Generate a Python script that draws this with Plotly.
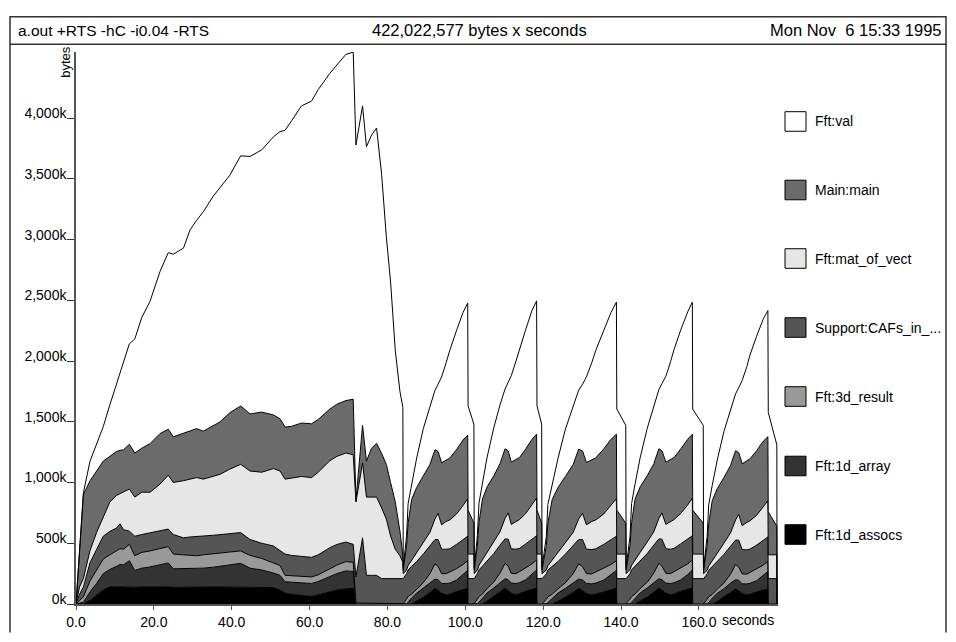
import plotly.graph_objects as go

# ---- data (time in seconds, cumulative heap level in kbytes at top of each band) ----
time_s = [
    0, 0.9, 1.9, 3.6, 5.3, 7.0, 8.7, 10.4, 11.3, 12.2, 13.7, 15.1, 16.9, 19.0, 21.6, 23.7, 25.0, 27.6, 29.3, 31.0,
    32.7, 35.3, 37.0, 39.5, 42.3, 44.7, 47.7, 50.7, 52.4, 53.7, 55.4, 57.9, 60.5, 62.2, 65.2, 67.0, 69.3, 71.2,
    71.9, 73.6, 74.6, 75.9, 77.2, 78.5, 79.7, 80.8, 82.0, 83.2, 83.95,
    84.05, 84.9, 85.3, 86.2, 87.5, 89.2, 90.9, 92.2, 93.0, 93.9, 95.1, 96.0, 97.7, 99.4, 100.6, 100.7, 102.2,
    102.3, 103.1, 103.5, 104.4, 105.6, 107.3, 108.9, 110.2, 111.0, 111.8, 113.0, 113.9, 115.5, 117.1, 118.3, 118.4, 119.6,
    119.7, 120.8, 121.2, 122.3, 123.8, 125.7, 127.7, 129.1, 130.1, 131.1, 132.5, 133.5, 135.5, 137.4, 138.8, 138.9, 141.2,
    141.3, 142.3, 142.7, 143.6, 144.9, 146.7, 148.4, 149.7, 150.5, 151.5, 152.7, 153.6, 155.3, 157.1, 158.3, 158.4, 161.1,
    161.2, 162.1, 162.5, 163.4, 164.7, 166.4, 168.1, 169.4, 170.2, 171.1, 172.3, 173.1, 174.8, 176.5, 177.7, 177.8, 180.0,
    180.05,
]

lvl_1d_assocs = [
    0, 0, 0, 30, 70, 115, 142, 140, 142, 140, 142, 138, 140, 142, 140, 142, 138, 140, 140, 142,
    140, 140, 140, 138, 140, 137, 137, 135, 115, 90, 80, 70, 62, 75, 102, 115, 125, 129,
    0, 0, 0, 0, 0, 0, 0, 0, 0, 0, 0,
    0, 0, 0, 0, 25, 55, 95, 129, 115, 89, 75, 80, 102, 115, 129, 0, 0,
    0, 0, 0, 0, 25, 60, 100, 132, 112, 89, 78, 85, 105, 118, 132, 0, 0,
    0, 0, 0, 0, 22, 55, 95, 129, 112, 86, 75, 82, 100, 118, 129, 0, 0,
    0, 0, 0, 0, 25, 58, 98, 132, 115, 89, 78, 82, 105, 118, 132, 0, 0,
    0, 0, 0, 0, 22, 55, 95, 126, 110, 86, 75, 80, 100, 115, 126, 0, 0,
    0,
]

lvl_1d_array = [
    0, 5, 15, 100, 170, 250, 285, 310, 325, 322, 357, 276, 295, 305, 320, 338, 290, 290, 290, 290,
    295, 303, 311, 317, 335, 295, 280, 255, 236, 183, 178, 172, 169, 185, 223, 250, 272, 268,
    0, 0, 0, 0, 0, 0, 0, 0, 0, 0, 0,
    0, 3, 15, 50, 90, 129, 175, 205, 200, 169, 169, 172, 196, 240, 276, 0, 0,
    0, 3, 15, 52, 92, 132, 178, 208, 200, 172, 169, 175, 200, 242, 280, 0, 0,
    0, 3, 12, 48, 90, 129, 175, 205, 198, 169, 166, 172, 196, 238, 276, 0, 0,
    0, 3, 15, 50, 92, 132, 178, 208, 200, 172, 169, 175, 198, 242, 280, 0, 0,
    0, 3, 12, 48, 88, 126, 172, 200, 196, 166, 166, 170, 192, 235, 268, 0, 0,
    0,
]

lvl_3d_result = [
    0, 30, 60, 190, 280, 370, 405, 440, 455, 451, 491, 397, 425, 437, 455, 472, 411, 405, 400, 397,
    405, 415, 424, 428, 437, 400, 375, 340, 317, 236, 232, 226, 223, 240, 290, 320, 349, 344,
    8, 8, 8, 8, 8, 8, 8, 8, 8, 8, 8,
    3, 40, 62, 80, 125, 175, 250, 330, 310, 250, 250, 263, 290, 325, 357, 0, 0,
    3, 40, 62, 82, 128, 180, 255, 335, 312, 252, 250, 266, 295, 330, 362, 0, 0,
    3, 38, 60, 80, 125, 175, 250, 330, 308, 250, 248, 263, 290, 325, 357, 0, 0,
    3, 40, 62, 82, 128, 178, 255, 335, 312, 252, 250, 266, 292, 330, 362, 0, 0,
    3, 38, 60, 78, 122, 172, 245, 325, 305, 248, 246, 260, 286, 320, 350, 0, 0,
    0,
]

lvl_support_cafs = [
    0, 80, 140, 340, 450, 558, 598, 625, 660, 612, 600, 558, 572, 585, 600, 617, 572, 545, 552, 558,
    560, 566, 572, 582, 588, 531, 500, 478, 440, 411, 400, 390, 384, 405, 464, 490, 510, 491,
    223, 545, 236, 236, 236, 209, 209, 209, 209, 209, 209,
    209, 250, 280, 310, 350, 411, 480, 531, 531, 451, 451, 455, 490, 530, 558, 209, 209,
    209, 250, 282, 312, 355, 415, 485, 536, 534, 455, 451, 458, 495, 535, 562, 209, 209,
    209, 248, 280, 310, 350, 411, 480, 531, 530, 451, 448, 455, 490, 530, 558, 209, 209,
    209, 250, 282, 312, 355, 415, 485, 536, 534, 455, 451, 458, 495, 535, 562, 209, 209,
    209, 248, 278, 308, 348, 408, 475, 526, 526, 448, 446, 452, 485, 525, 552, 209, 209,
    0,
]

lvl_mat_of_vect = [
    0, 140, 210, 440, 590, 719, 840, 894, 910, 921, 947, 880, 921, 920, 988, 1060, 1001, 1015, 1030, 1041,
    1028, 1050, 1068, 1110, 1150, 1095, 1085, 1115, 1095, 1028, 1035, 1050, 1041, 1085, 1180, 1215, 1243, 1229,
    840, 1162, 880, 880, 880, 790, 700, 560, 451, 397, 343,
    250, 280, 315, 360, 420, 505, 590, 700, 746, 652, 680, 692, 740, 810, 867, 411, 411,
    250, 282, 318, 365, 425, 510, 595, 705, 750, 655, 682, 695, 745, 815, 872, 411, 411,
    250, 280, 315, 360, 420, 505, 590, 700, 746, 652, 680, 692, 740, 810, 867, 411, 411,
    250, 282, 318, 365, 425, 510, 595, 705, 750, 655, 682, 695, 745, 815, 872, 411, 411,
    250, 278, 312, 355, 415, 500, 585, 692, 738, 645, 672, 685, 730, 800, 850, 405, 405,
    0,
]

lvl_main = [
    0, 420, 900, 1015, 1100, 1176, 1216, 1256, 1265, 1270, 1315, 1243, 1283, 1320, 1404, 1439, 1377, 1404, 1425, 1444,
    1423, 1471, 1500, 1575, 1630, 1565, 1580, 1557, 1525, 1457, 1463, 1490, 1484, 1520, 1605, 1645, 1675, 1686,
    854, 1471, 1176, 1283, 1323, 1240, 1150, 1000, 840, 600, 400,
    280, 480, 666, 860, 960, 1050, 1149, 1270, 1256, 1162, 1189, 1202, 1270, 1350, 1390, 773, 666,
    280, 485, 670, 865, 965, 1055, 1155, 1278, 1262, 1168, 1192, 1206, 1276, 1356, 1398, 773, 666,
    280, 480, 666, 860, 960, 1050, 1149, 1275, 1260, 1165, 1189, 1204, 1275, 1356, 1398, 773, 666,
    280, 485, 670, 865, 965, 1055, 1155, 1278, 1262, 1168, 1192, 1206, 1276, 1356, 1398, 773, 666,
    280, 478, 660, 850, 950, 1040, 1140, 1262, 1248, 1155, 1180, 1195, 1262, 1340, 1377, 760, 640,
    0,
]

lvl_val = [
    0, 430, 915, 1176, 1320, 1460, 1640, 1810, 1900, 1981, 2142, 2182, 2360, 2491, 2740, 2893, 2880, 2930, 3081, 3160,
    3230, 3360, 3430, 3530, 3690, 3685, 3739, 3846, 3890, 3900, 3980, 4101, 4141, 4235, 4370, 4437, 4525, 4544,
    3779, 4101, 3766, 3860, 3919, 3537, 3028, 2650, 2088, 1750, 1620,
    300, 560, 827, 988, 1202, 1444, 1632, 1760, 1810, 1870, 1990, 2088, 2249, 2400, 2477, 1632, 1480,
    300, 565, 830, 995, 1210, 1450, 1640, 1770, 1820, 1880, 2000, 2100, 2260, 2415, 2496, 1632, 1480,
    300, 555, 820, 985, 1200, 1440, 1630, 1760, 1810, 1870, 1990, 2088, 2249, 2400, 2485, 1605, 1471,
    300, 560, 827, 990, 1205, 1445, 1635, 1765, 1815, 1875, 1995, 2095, 2255, 2405, 2485, 1605, 1471,
    300, 555, 815, 975, 1185, 1420, 1605, 1730, 1780, 1840, 1955, 2050, 2205, 2345, 2416, 1578, 1310,
    0,
]

band_names = ["Fft:1d_assocs", "Fft:1d_array", "Fft:3d_result", "Support:CAFs_in_...",
              "Fft:mat_of_vect", "Main:main", "Fft:val"]
band_levels = [lvl_1d_assocs, lvl_1d_array, lvl_3d_result, lvl_support_cafs,
               lvl_mat_of_vect, lvl_main, lvl_val]
band_colors = ["#000000", "#333333", "#999999", "#555555", "#e6e6e6", "#6b6b6b", "#ffffff"]

y_ticks = [0, 500, 1000, 1500, 2000, 2500, 3000, 3500, 4000]
y_ticklabels = ["0k", "500k", "1,000k", "1,500k", "2,000k", "2,500k", "3,000k", "3,500k", "4,000k"]
x_ticks = [0, 20, 40, 60, 80, 100, 120, 140, 160]
x_ticklabels = ["0.0", "20.0", "40.0", "60.0", "80.0", "100.0", "120.0", "140.0", "160.0"]

title_left = "a.out +RTS -hC -i0.04 -RTS"
title_mid = "422,022,577 bytes x seconds"
title_right = "Mon Nov\u00a0\u00a06 15:33 1995"

# ---- layout geometry (pixels) ----
W, H = 956, 642
L, R, T, B = 76, 178, 52, 26
PW, PH = W - L - R, H - T - B
FONT = "Liberation Sans, Arial, Helvetica, sans-serif"


def px(x):
    return (x - L) / PW


def py(y):
    return (H - B - y) / PH


fig = go.Figure()
for i, (name, lv, col) in enumerate(zip(band_names, band_levels, band_colors)):
    fig.add_trace(go.Scatter(
        x=time_s, y=lv, name=name, mode="lines",
        line=dict(color="#000000", width=1),
        fill="tozeroy" if i == 0 else "tonexty",
        fillcolor=col, showlegend=False,
        hovertemplate=name + "<br>%{x:.1f} s: %{y}k<extra></extra>",
    ))

shapes = []
annotations = []
# header box and frame
shapes.append(dict(type="rect", xref="paper", yref="paper", x0=px(10), x1=px(946), y0=py(44), y1=py(16),
                   line=dict(color="#333333", width=1.5)))
shapes.append(dict(type="line", xref="paper", yref="paper", x0=px(10), x1=px(10), y0=py(44), y1=py(645),
                   line=dict(color="#333333", width=1.5)))
shapes.append(dict(type="line", xref="paper", yref="paper", x0=px(946), x1=px(946), y0=py(44), y1=py(645),
                   line=dict(color="#333333", width=1.5)))
annotations.append(dict(text=title_left, xref="paper", yref="paper", x=px(16), y=py(30), xanchor="left",
                        yanchor="middle", showarrow=False, font=dict(size=15.5, color="#000", family=FONT)))
annotations.append(dict(text=title_mid, xref="paper", yref="paper", x=px(479), y=py(30), xanchor="center",
                        yanchor="middle", showarrow=False, font=dict(size=16.5, color="#000", family=FONT)))
annotations.append(dict(text=title_right, xref="paper", yref="paper", x=px(944), y=py(30), xanchor="right",
                        yanchor="middle", showarrow=False, font=dict(size=16.5, color="#000", family=FONT)))
# y axis title
annotations.append(dict(text="bytes", xref="paper", yref="paper", x=px(66), y=py(62), textangle=-90,
                        xanchor="center", yanchor="middle", showarrow=False,
                        font=dict(size=13, color="#000", family=FONT)))
# x axis unit
annotations.append(dict(text="seconds", xref="paper", yref="paper", x=px(720), y=py(632), xanchor="left",
                        yanchor="middle", showarrow=False, font=dict(size=14, color="#000", family=FONT)))
# legend (top to bottom, reverse of stacking order)
leg_centers = [123, 193, 263, 333.5, 404, 475, 545]
for j, idx in enumerate(range(len(band_names) - 1, -1, -1)):
    cy = leg_centers[j]
    shapes.append(dict(type="rect", xref="paper", yref="paper", x0=px(785), x1=px(806),
                       y0=py(cy + 10), y1=py(cy - 10), fillcolor=band_colors[idx],
                       line=dict(color="#000000", width=1)))
    annotations.append(dict(text=band_names[idx], xref="paper", yref="paper", x=px(813), y=py(cy),
                            xanchor="left", yanchor="middle", showarrow=False,
                            font=dict(size=14, color="#000", family=FONT)))

fig.update_layout(
    width=W, height=H,
    margin=dict(l=L, r=R, t=T, b=B, pad=0),
    paper_bgcolor="white", plot_bgcolor="white",
    font=dict(family=FONT, size=14, color="#000"),
    shapes=shapes, annotations=annotations,
    xaxis=dict(range=[0, 180.3], showgrid=False, zeroline=False, showline=True, linecolor="#555555",
               linewidth=1.5, ticks="outside", ticklen=4, tickcolor="#555555", tickvals=x_ticks,
               ticktext=x_ticklabels, tickfont=dict(size=14, family=FONT, color="#000")),
    yaxis=dict(range=[0, 4545], showgrid=False, zeroline=False, showline=True, linecolor="#555555",
               linewidth=1.5, ticks="outside", ticklen=7, tickcolor="#333333", tickvals=y_ticks,
               ticktext=y_ticklabels, ticklabelshift=-5, ticklabelstandoff=-2,
               tickfont=dict(size=14, family=FONT, color="#000")),
    hovermode="closest",
)

fig.write_html("out.html", config={"displayModeBar": False},
               post_script="document.body.style.margin='0px';")
